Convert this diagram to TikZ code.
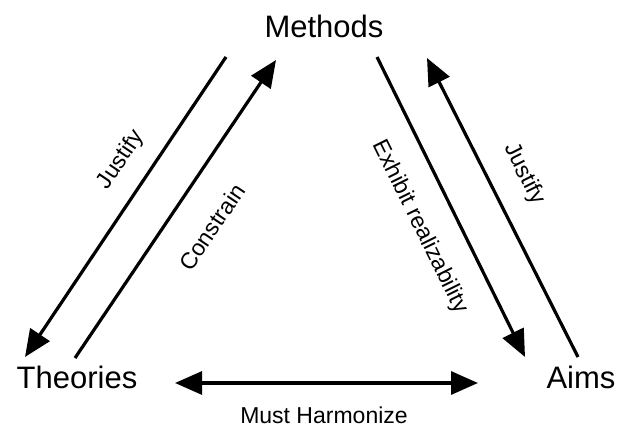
\documentclass[tikz,border=0pt]{standalone}
\usepackage{fontspec}
\setmainfont{Liberation Sans}
\usetikzlibrary{arrows.meta}

\begin{document}
\begin{tikzpicture}[x=1pt,y=1pt,
	corner/.style={font=\fontsize{31}{36}\selectfont,anchor=base,inner sep=0pt},
	lbl/.style={font=\fontsize{23}{27}\selectfont,inner sep=0pt},
	link/.style={line width=3.2pt,-{Triangle[length=27pt,width=23pt]}},
	twoway/.style={line width=3.2pt,{Triangle[length=27pt,width=23pt]}-{Triangle[length=27pt,width=23pt]}},
	]
	
	\useasboundingbox (0,0) rectangle (620,428);
	
	% Corners
	\node[corner] (methods) at (324,390) {Methods};
	\node[corner] (theories) at (77,40) {Theories};
	\node[corner] (aims) at (581,40) {Aims};
	
	% Arrow ends
	\coordinate (jl-a) at (226,371);
	\coordinate (jl-b) at (25,71);
	\coordinate (co-a) at (75,70);
	\coordinate (co-b) at (276,368);
	\coordinate (ex-a) at (377,371);
	\coordinate (ex-b) at (525,71);
	\coordinate (jr-a) at (578,71);
	\coordinate (jr-b) at (427,370);
	\coordinate (mh-a) at (175,45);
	\coordinate (mh-b) at (478,45);
	
	% Methods -- Theories
	\draw[link] (jl-a) -- (jl-b);
	\draw[link] (co-a) -- (co-b);
	
	% Methods -- Aims
	\draw[link] (ex-a) -- (ex-b);
	\draw[link] (jr-a) -- (jr-b);
	
	% Theories -- Aims
	\draw[twoway] (mh-a) -- (mh-b);
	
	% Labels
	\node[lbl,rotate=56] (justl) at (121,268) {Justify};
	\node[lbl,rotate=56] (constr) at (212,201) {Constrain};
	\node[lbl,rotate=-63.7] (exhib) at (420,201) {Exhibit realizability};
	\node[lbl,rotate=-63.2] (justr) at (524,254) {Justify};
	\node[lbl,anchor=base] (harm) at (324,5) {Must Harmonize};
	
\end{tikzpicture}
\end{document}
